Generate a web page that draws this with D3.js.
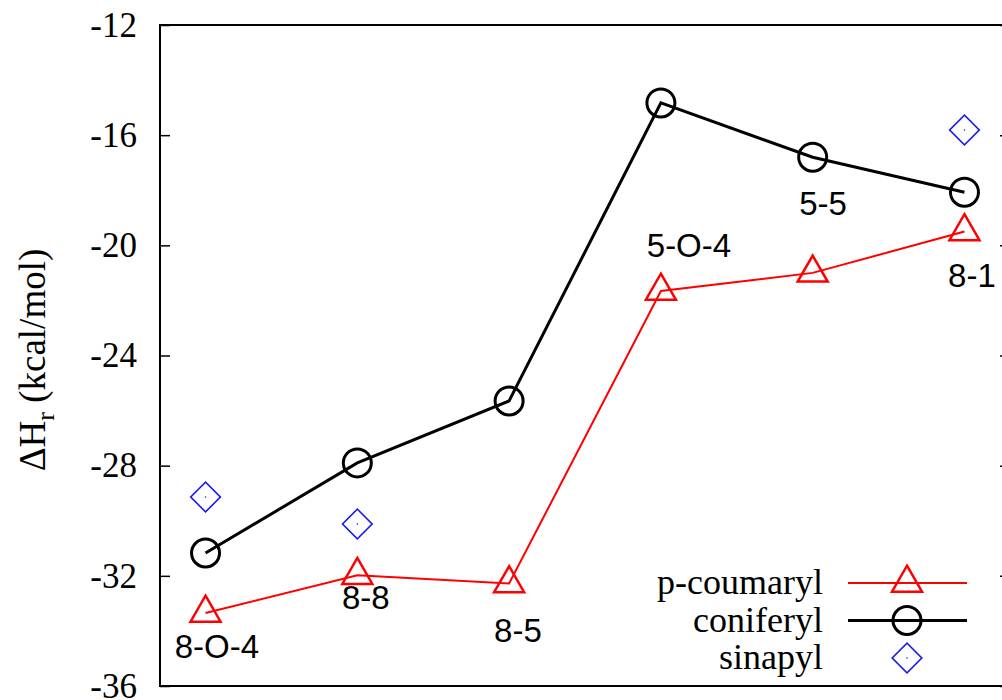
<!DOCTYPE html>
<html>
<head>
<meta charset="utf-8">
<title>Reaction enthalpy</title>
<script src="https://d3js.org/d3.v7.min.js"></script>
<style>
  body { margin: 0; background: #fff; }
  .serif { font-family: "Liberation Serif", "DejaVu Serif", serif; }
  .sans { font-family: "Liberation Sans", Arial, sans-serif; }
</style>
</head>
<body>
<script>
// linkage types along x (index 1..6)
var linkages = ["8-O-4", "8-8", "8-5", "5-O-4", "5-5", "8-1"];
var pCoumaryl = [-33.35, -31.98, -32.28, -21.66, -21.0, -19.5];
var coniferyl = [-31.17, -27.9, -25.65, -14.83, -16.8, -18.07];
// sinapyl only computed for three linkages
var sinapylIdx = [1, 2, 6];
var sinapyl = [-29.14, -30.12, -15.81];
var yTicks = [-36, -32, -28, -24, -20, -16, -12];
// where each linkage name sits (data coords: x index, y value)
var labelPos = [[1.075, -34.98], [2.056, -33.2], [3.058, -34.4], [4.185, -20.42], [5.068, -18.9], [6.049, -21.5]];

var W = 1002, H = 700;
var plotL = 160, plotR = 1010, plotT = 25, plotB = 686;

var svg = d3.select("body").append("svg")
  .attr("width", W).attr("height", H);

svg.append("rect").attr("width", W).attr("height", H).attr("fill", "#fff");

var x = d3.scaleLinear().domain([0.7, 6.3]).range([plotL, plotR]);
var y = d3.scaleLinear().domain([-36, -12]).range([plotB, plotT]);

// frame
svg.append("rect")
  .attr("x", plotL).attr("y", plotT)
  .attr("width", plotR - plotL).attr("height", plotB - plotT)
  .attr("fill", "none").attr("stroke", "#000").attr("stroke-width", 2);

// left axis (inward ticks)
var ga = svg.append("g")
  .attr("transform", "translate(" + plotL + ",0)")
  .call(d3.axisLeft(y).tickValues(yTicks).tickSize(-10).tickPadding(23)
    .tickFormat(function(d) { return String(d); }));
ga.select(".domain").remove();
ga.selectAll("line").attr("stroke-width", 1.5);
ga.selectAll("text").attr("class", "serif").attr("font-size", 35).attr("fill", "#000");
ga.attr("font-family", null).attr("font-size", null);

// right side mirror ticks
var gr = svg.append("g")
  .attr("transform", "translate(" + plotR + ",0)")
  .call(d3.axisRight(y).tickValues(yTicks).tickSize(-10).tickFormat(""));
gr.select(".domain").remove();
gr.selectAll("line").attr("stroke-width", 1.5);

// y label
var yl = svg.append("text")
  .attr("class", "serif")
  .attr("font-size", 37)
  .attr("text-anchor", "middle")
  .attr("transform", "translate(45,360) rotate(-90)");
yl.append("tspan").text("\u0394H");
yl.append("tspan").attr("font-size", 26).attr("dy", 9).text("r");
yl.append("tspan").attr("dy", -9).text(" (kcal/mol)");

var line = d3.line()
  .x(function(d, i) { return x(i + 1); })
  .y(function(d) { return y(d); });

// p-coumaryl
svg.append("path").datum(pCoumaryl)
  .attr("d", line).attr("fill", "none")
  .attr("stroke", "#ff0000").attr("stroke-width", 2);

var tri = d3.symbol().type(d3.symbolTriangle).size(390);
svg.selectAll(".tri").data(pCoumaryl).enter().append("path")
  .attr("class", "tri")
  .attr("d", tri)
  .attr("transform", function(d, i) { return "translate(" + x(i + 1) + "," + y(d) + ")"; })
  .attr("fill", "none").attr("stroke", "#ff0000").attr("stroke-width", 2.5);

// coniferyl
svg.append("path").datum(coniferyl)
  .attr("d", line).attr("fill", "none")
  .attr("stroke", "#000").attr("stroke-width", 3);

svg.selectAll(".circ").data(coniferyl).enter().append("circle")
  .attr("class", "circ")
  .attr("cx", function(d, i) { return x(i + 1); })
  .attr("cy", function(d) { return y(d); })
  .attr("r", 14)
  .attr("fill", "none").attr("stroke", "#000").attr("stroke-width", 3);

// sinapyl
var dia = d3.symbol().type(d3.symbolSquare).size(440);
svg.selectAll(".dia").data(sinapyl).enter().append("path")
  .attr("class", "dia")
  .attr("d", dia)
  .attr("transform", function(d, i) { return "translate(" + x(sinapylIdx[i]) + "," + y(d) + ") rotate(45)"; })
  .attr("fill", "none").attr("stroke", "#1a1aee").attr("stroke-width", 1.6);
svg.selectAll(".dot").data(sinapyl).enter().append("circle")
  .attr("class", "dot")
  .attr("cx", function(d, i) { return x(sinapylIdx[i]); })
  .attr("cy", function(d) { return y(d); })
  .attr("r", 0.8).attr("fill", "#1a1aee");

// linkage names
svg.selectAll(".lab").data(linkages).enter().append("text")
  .attr("class", "sans lab")
  .attr("font-size", 33)
  .attr("text-anchor", "middle")
  .attr("x", function(d, i) { return x(labelPos[i][0]); })
  .attr("y", function(d, i) { return y(labelPos[i][1]); })
  .text(function(d) { return d; });

// legend
var legend = [
  {name: "p-coumaryl", color: "#ff0000", w: 2, mark: "tri"},
  {name: "coniferyl", color: "#000", w: 3, mark: "circ"},
  {name: "sinapyl", color: "#1a1aee", w: 0, mark: "dia"}
];
var lg = svg.append("g");
legend.forEach(function(d, i) {
  var ry = 583 + i * 37.5;
  lg.append("text").attr("class", "serif")
    .attr("font-size", 36).attr("text-anchor", "end")
    .attr("x", 823).attr("y", ry + 11).text(d.name);
  if (d.w > 0) {
    lg.append("line").attr("x1", 848).attr("x2", 967)
      .attr("y1", ry).attr("y2", ry)
      .attr("stroke", d.color).attr("stroke-width", d.w);
  }
  if (d.mark === "tri") {
    lg.append("path").attr("d", tri).attr("transform", "translate(907," + ry + ")")
      .attr("fill", "none").attr("stroke", d.color).attr("stroke-width", 2.5);
  } else if (d.mark === "circ") {
    lg.append("circle").attr("cx", 907).attr("cy", ry).attr("r", 14)
      .attr("fill", "none").attr("stroke", d.color).attr("stroke-width", 3);
  } else {
    lg.append("path").attr("d", dia).attr("transform", "translate(907," + ry + ") rotate(45)")
      .attr("fill", "none").attr("stroke", d.color).attr("stroke-width", 1.6);
    lg.append("circle").attr("cx", 907).attr("cy", ry).attr("r", 0.8).attr("fill", d.color);
  }
});
</script>
</body>
</html>
